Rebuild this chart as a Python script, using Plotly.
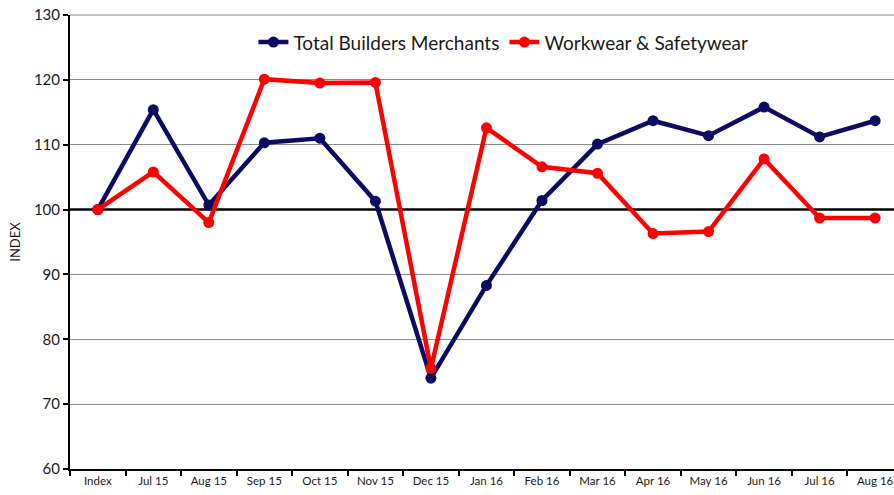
import plotly.graph_objects as go

categories = ["Index", "Jul 15", "Aug 15", "Sep 15", "Oct 15", "Nov 15", "Dec 15",
              "Jan 16", "Feb 16", "Mar 16", "Apr 16", "May 16", "Jun 16", "Jul 16", "Aug 16"]
builders = [100, 115.4, 100.7, 110.3, 111.0, 101.3, 74.0, 88.3, 101.4, 110.1, 113.7, 111.4, 115.8, 111.2, 113.7]
workwear = [100, 105.8, 98.0, 120.1, 119.5, 119.6, 75.5, 112.6, 106.6, 105.6, 96.3, 96.6, 107.8, 98.7, 98.7]
y_ticks = [60, 70, 80, 90, 100, 110, 120, 130]
baseline = 100
y_range = [60, 130]

FONT = "Lato, 'Open Sans', sans-serif"
GRID = "#8c8c8c"

fig = go.Figure()
fig.add_trace(go.Scatter(x=categories, y=builders, name="Total Builders Merchants",
                         mode="lines+markers",
                         line=dict(color="#0b0b63", width=4.5),
                         marker=dict(color="#0b0b63", size=11)))
fig.add_trace(go.Scatter(x=categories, y=workwear, name="Workwear & Safetywear",
                         mode="lines+markers",
                         line=dict(color="#ff0000", width=4.5),
                         marker=dict(color="#ff0000", size=11)))

# reference line at the index base and top border of the grid
fig.add_shape(type="line", xref="paper", yref="y", x0=0, x1=1, y0=baseline, y1=baseline,
              line=dict(color="black", width=2.5), layer="between")
fig.add_shape(type="line", xref="paper", yref="paper", x0=0, x1=1, y0=1, y1=1,
              line=dict(color=GRID, width=1), layer="between")

grid_vals = [t for t in y_ticks if t != baseline]

fig.update_layout(
    width=894, height=495,
    margin=dict(l=70, r=0, t=15, b=26),
    paper_bgcolor="white", plot_bgcolor="white",
    font=dict(family=FONT, color="#1a1a1a"),
    showlegend=True,
    legend=dict(orientation="h", x=0.526, xanchor="center", y=0.94, yanchor="middle",
                font=dict(size=19, family=FONT, color="#1a1a1a"),
                bgcolor="rgba(0,0,0,0)", itemwidth=30, tracegroupgap=0),
    xaxis=dict(type="category", range=[-0.5, 14.34], showgrid=False, automargin=False,
               showline=True, linecolor="black", linewidth=2,
               ticks="outside", ticklen=5, tickcolor="black", tickwidth=2,
               tickson="boundaries", tickfont=dict(size=11.5, family=FONT, color="#1a1a1a")),
    yaxis=dict(range=y_range, tickvals=y_ticks, showgrid=False,
               minor=dict(tickmode="array", tickvals=grid_vals, showgrid=True,
                          gridcolor=GRID, gridwidth=1, ticks=""),
               automargin=False,
               showline=True, linecolor="black", linewidth=2,
               ticks="outside", ticklen=5, tickcolor="black", tickwidth=2,
               ticklabeloverflow="allow",
               tickfont=dict(size=15, family=FONT, color="#1a1a1a"),
               title=dict(text="INDEX", font=dict(size=13, family=FONT, color="#1a1a1a"), standoff=10),
               zeroline=False),
)

fig.write_html("out.html", config={"displayModeBar": False},
               post_script="document.body.style.margin='0';document.body.style.overflow='hidden';")
